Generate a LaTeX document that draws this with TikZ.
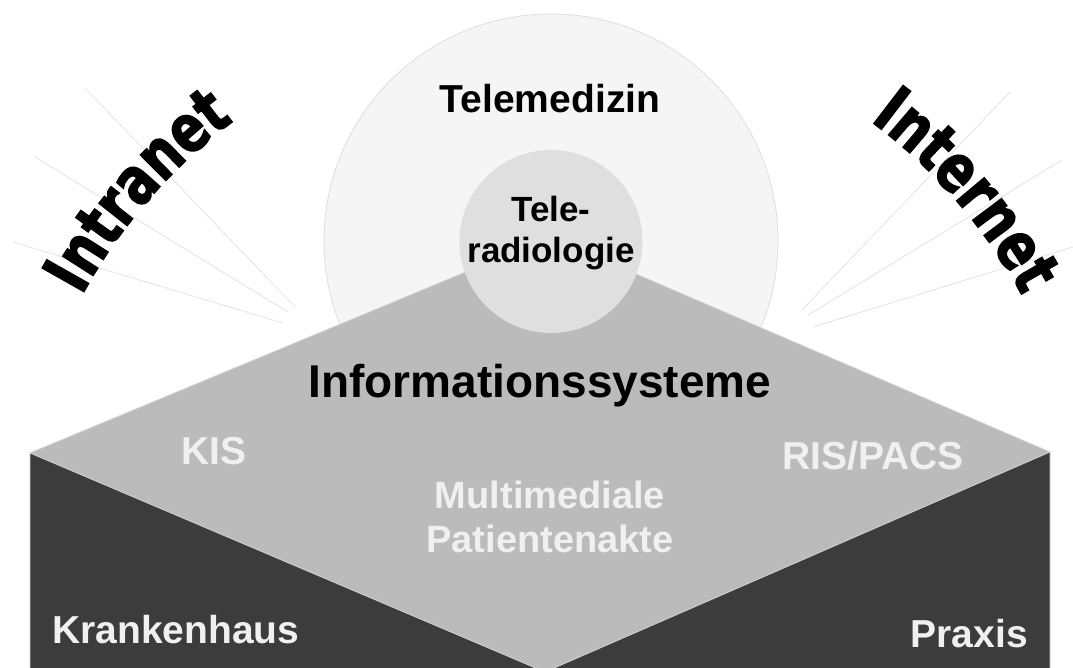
\documentclass[tikz,border=0pt]{standalone}
\usepackage{fontspec}
\setmainfont{Liberation Sans}
\newfontfamily\wordart{DejaVu Sans Bold}[FakeBold=2,FakeStretch=0.77]
\usetikzlibrary{decorations.text}

\definecolor{darkface}{HTML}{3C3C3C}
\definecolor{topface}{HTML}{BBBBBB}
\definecolor{outerdisc}{HTML}{F5F5F5}
\definecolor{outerline}{HTML}{DEDEDE}
\definecolor{innerdisc}{HTML}{DFDFDF}
\definecolor{edgeline}{HTML}{D2D2D2}
\definecolor{pale}{HTML}{F0F0F0}
\definecolor{rayline}{HTML}{E2E2E2}

\newcommand{\bsize}[2]{\fontsize{#1}{#2}\selectfont\bfseries}

\begin{document}
\begin{tikzpicture}[x=1pt,y=1pt]
    \tikzstyle{ray}=[draw=rayline,line width=0.8pt]
    \tikzstyle{face}=[draw=edgeline,line width=0.8pt]
    \tikzstyle{lbl}=[inner sep=0pt]
    \tikzstyle{arch}=[decorate,decoration={text along path,text align=center,
        text={|\wordart\fontsize{66}{66}\selectfont|#1}}]
    \useasboundingbox (0,0) rectangle (1073,667);
    \clip (0,0) rectangle (1073,667);

    % rays behind
    \foreach \x/\y/\u/\v in {85/579/295/360, 35/510/288/355, 13/425/283/344,
                             1010/575/802/357, 1062/507/808/352, 1073/420/813/340}
        \draw[ray] (\x,\y) -- (\u,\v);

    \filldraw[fill=outerdisc,draw=outerline,line width=0.8pt] (551,426) circle (227);

    \coordinate (top) at (550,430);
    \coordinate (L) at (30,214);
    \coordinate (bot) at (545,-5);
    \coordinate (R) at (1050,215);
    \filldraw[fill=topface,face] (top) -- (L) -- (bot) -- (R) -- cycle;
    \filldraw[fill=darkface,face] (L) -- (bot) -- (30,-5) -- cycle;
    \filldraw[fill=darkface,face] (R) -- (bot) -- (1050,-5) -- cycle;

    \fill[innerdisc] (551,425.5) circle (91.5);

    \node[lbl,font=\bsize{39}{47},anchor=base] (tele) at (550,554) {Telemedizin};
    \node[lbl,font=\bsize{35}{41},align=center] (telerad) at (551,433.5) {Tele-\\radiologie};
    \node[lbl,font=\bsize{46}{55},anchor=base] (info) at (540,269) {Informationssysteme};
    \node[lbl,text=pale,font=\bsize{39}{45},anchor=base] (kis) at (214,202) {KIS};
    \node[lbl,text=pale,font=\bsize{39}{45},anchor=base] (ris) at (873,197) {RIS/PACS};
    \node[lbl,text=pale,font=\bsize{38}{44},align=center] (akte) at (550,150) {Multimediale\\Patientenakte};
    \node[lbl,text=pale,font=\bsize{39}{47},anchor=base west] (kh) at (52,24) {Krankenhaus};
    \node[lbl,text=pale,font=\bsize{39}{47},anchor=base east] (praxis) at (1028,20) {Praxis};

    % curved words
    \path[arch=Intranet] ([shift={(152:535)}]552,116) arc[start angle=152,end angle=126,radius=535];
    \path[arch=Internet] ([shift={(54:535)}]552,116) arc[start angle=54,end angle=28,radius=535];
\end{tikzpicture}
\end{document}
